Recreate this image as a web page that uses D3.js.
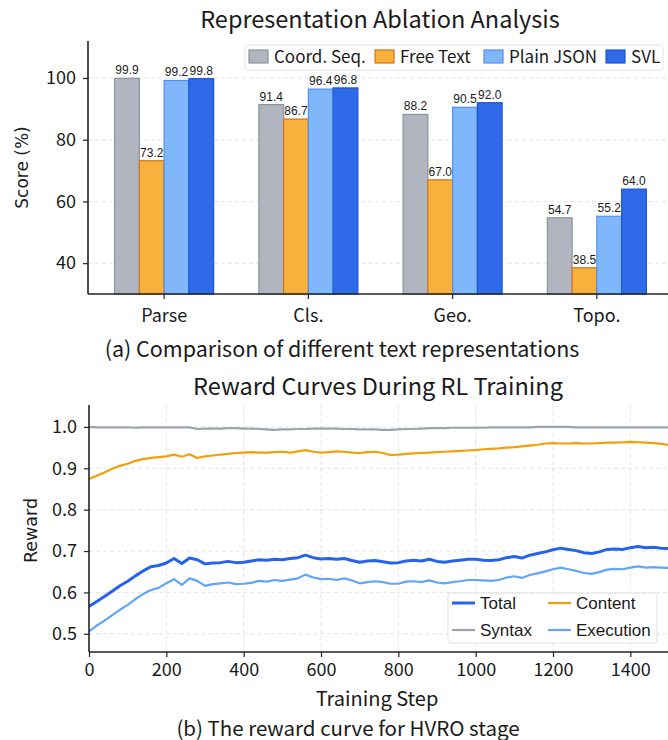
<!DOCTYPE html>
<html>
<head>
<meta charset="utf-8">
<script src="https://cdn.jsdelivr.net/npm/d3@7"></script>
<style>
  body { margin: 0; background: #fff; }
  svg { display: block; }
  text { fill: #1a1a1a; }
</style>
</head>
<body>
<div id="chart"></div>
<script>
const W = 668, H = 740;
const cjk = '"Noto Sans CJK SC", "Noto Sans", sans-serif';
const sans = '"Liberation Sans", Arial, sans-serif';
const dejavu = '"DejaVu Sans", sans-serif';

// ---- (a) bar chart data
const categories = ['Parse', 'Cls.', 'Geo.', 'Topo.'];
const barSeries = ['Coord. Seq.', 'Free Text', 'Plain JSON', 'SVL'];
const coordSeq = [99.9, 91.4, 88.2, 54.7];
const freeText = [73.2, 86.7, 67.0, 38.5];
const plainJson = [99.2, 96.4, 90.5, 55.2];
const svl = [99.8, 96.8, 92.0, 64.0];
const barTicks = [40, 60, 80, 100];
const barFill = ['#b0b5bf', '#f7b13c', '#80b7fb', '#2f6ae8'];
const barEdge = ['#8e939d', '#d0761a', '#4f8ff2', '#1f56d6'];

// ---- (b) reward curves data (every 20 steps)
const steps = d3.range(0, 1501, 20);
const total = [0.566, 0.578, 0.590, 0.603, 0.616, 0.627, 0.640, 0.652, 0.662, 0.665,
  0.671, 0.682, 0.670, 0.683, 0.679, 0.669, 0.671, 0.672, 0.675, 0.672,
  0.673, 0.676, 0.679, 0.678, 0.680, 0.679, 0.682, 0.684, 0.690, 0.684,
  0.681, 0.682, 0.680, 0.682, 0.677, 0.673, 0.676, 0.677, 0.674, 0.671,
  0.672, 0.676, 0.678, 0.676, 0.680, 0.675, 0.673, 0.676, 0.678, 0.680,
  0.680, 0.678, 0.677, 0.679, 0.684, 0.687, 0.683, 0.690, 0.694, 0.698,
  0.703, 0.707, 0.704, 0.701, 0.696, 0.694, 0.698, 0.704, 0.705, 0.704,
  0.708, 0.711, 0.708, 0.709, 0.707, 0.706];
const syntax = [1.000, 0.999, 0.999, 0.999, 0.999, 0.999, 0.998, 0.999, 0.999, 0.999,
  0.999, 0.999, 0.999, 0.999, 0.995, 0.996, 0.996, 0.996, 0.997, 0.997,
  0.996, 0.996, 0.995, 0.994, 0.993, 0.994, 0.994, 0.995, 0.995, 0.996,
  0.996, 0.996, 0.996, 0.995, 0.995, 0.994, 0.994, 0.994, 0.993, 0.993,
  0.994, 0.995, 0.995, 0.996, 0.997, 0.997, 0.997, 0.998, 0.998, 0.998,
  0.998, 0.998, 0.999, 0.999, 0.999, 0.999, 0.999, 0.999, 1.000, 1.000,
  1.000, 1.000, 1.000, 0.999, 0.999, 0.999, 0.999, 0.999, 0.999, 0.999,
  0.999, 0.999, 0.999, 0.999, 0.999, 0.999];
const content = [0.874, 0.882, 0.890, 0.899, 0.906, 0.911, 0.918, 0.922, 0.925, 0.927,
  0.929, 0.933, 0.928, 0.934, 0.925, 0.929, 0.931, 0.933, 0.935, 0.937,
  0.938, 0.939, 0.938, 0.938, 0.939, 0.940, 0.938, 0.941, 0.944, 0.940,
  0.938, 0.939, 0.941, 0.940, 0.938, 0.937, 0.939, 0.940, 0.937, 0.932,
  0.933, 0.935, 0.936, 0.937, 0.938, 0.939, 0.940, 0.941, 0.942, 0.943,
  0.944, 0.946, 0.947, 0.948, 0.950, 0.951, 0.953, 0.955, 0.957, 0.960,
  0.961, 0.960, 0.960, 0.961, 0.960, 0.960, 0.961, 0.962, 0.962, 0.963,
  0.964, 0.963, 0.962, 0.961, 0.959, 0.956];
const execution = [0.506, 0.520, 0.532, 0.545, 0.558, 0.570, 0.584, 0.596, 0.606, 0.611,
  0.622, 0.632, 0.618, 0.634, 0.628, 0.616, 0.620, 0.622, 0.624, 0.620,
  0.621, 0.623, 0.628, 0.626, 0.630, 0.628, 0.631, 0.634, 0.643, 0.636,
  0.632, 0.633, 0.630, 0.634, 0.629, 0.622, 0.625, 0.627, 0.625, 0.621,
  0.621, 0.626, 0.627, 0.625, 0.629, 0.624, 0.622, 0.625, 0.627, 0.630,
  0.630, 0.629, 0.628, 0.630, 0.636, 0.639, 0.635, 0.642, 0.646, 0.651,
  0.656, 0.660, 0.656, 0.652, 0.647, 0.645, 0.649, 0.655, 0.657, 0.656,
  0.660, 0.663, 0.660, 0.661, 0.660, 0.659];
const lineNames = ['Total', 'Syntax', 'Content', 'Execution'];
const lineColors = ['#2563eb', '#9ca3af', '#f59e0b', '#60a5fa'];
const lineWidths = [3, 2.2, 2.2, 2.2];
const stepTicks = [0, 200, 400, 600, 800, 1000, 1200, 1400];
const rewardTicks = [0.5, 0.6, 0.7, 0.8, 0.9, 1.0];

const svg = d3.select('#chart').append('svg')
  .attr('width', W).attr('height', H);

// ================= (a) bars =================
const pA = { left: 88, right: 668, top: 41, bottom: 294 };
const x0 = d3.scaleBand().domain(categories).range([92, 669]);
const x1 = d3.scaleBand().domain(barSeries).range([-49.5, 49.5]);
const yA = d3.scaleLinear().domain([30, 112]).range([pA.bottom, pA.top]);

const gA = svg.append('g');

// grid
gA.append('g').selectAll('line').data(barTicks).enter().append('line')
  .attr('x1', pA.left).attr('x2', pA.right)
  .attr('y1', d => yA(d)).attr('y2', d => yA(d))
  .attr('stroke', '#dcdcdc').attr('stroke-width', 0.8)
  .attr('stroke-dasharray', '4,3');

const barData = [coordSeq, freeText, plainJson, svl];
barSeries.forEach((s, si) => {
  const g = gA.append('g');
  const vals = barData[si];
  g.selectAll('rect').data(categories).enter().append('rect')
    .attr('x', (c) => x0(c) + x0.bandwidth() / 2 + x1(s))
    .attr('width', x1.bandwidth())
    .attr('y', (c, i) => yA(vals[i]))
    .attr('height', (c, i) => yA(30) - yA(vals[i]))
    .attr('fill', barFill[si])
    .attr('stroke', barEdge[si]).attr('stroke-width', 1.2);
  g.selectAll('text').data(categories).enter().append('text')
    .attr('x', (c) => x0(c) + x0.bandwidth() / 2 + x1(s) + x1.bandwidth() / 2)
    .attr('y', (c, i) => yA(vals[i]) - 4)
    .attr('text-anchor', 'middle')
    .style('font-family', sans).style('font-size', '12px')
    .text((c, i) => vals[i].toFixed(1));
});

// axes
const yAxisA = gA.append('g').attr('transform', `translate(${pA.left},0)`)
  .call(d3.axisLeft(yA).tickValues(barTicks).tickSize(5).tickPadding(7));
yAxisA.select('.domain').attr('d', `M0,${pA.top}V${pA.bottom}`);
const xAxisA = gA.append('g').attr('transform', `translate(0,${pA.bottom})`)
  .call(d3.axisBottom(x0).tickSize(5).tickPadding(10));
xAxisA.select('.domain').attr('d', `M${pA.left},0H${pA.right}`);
[yAxisA, xAxisA].forEach(a => {
  a.select('.domain').attr('stroke', '#222').attr('stroke-width', 1.6);
  a.selectAll('.tick line').attr('stroke', '#222').attr('stroke-width', 1.2);
  a.selectAll('.tick text').style('font-family', cjk).style('font-size', '18px').attr('fill', '#1a1a1a');
});

gA.append('text').attr('x', 380).attr('y', 28).attr('text-anchor', 'middle')
  .style('font-family', cjk).style('font-size', '23.5px')
  .text('Representation Ablation Analysis');
gA.append('text').attr('transform', `translate(28,${(pA.top + pA.bottom) / 2}) rotate(-90)`)
  .attr('text-anchor', 'middle')
  .style('font-family', dejavu).style('font-size', '17px')
  .text('Score (%)');

// legend (a)
const legA = gA.append('g');
legA.append('rect').attr('x', 245).attr('y', 45).attr('width', 418).attr('height', 25)
  .attr('rx', 3).attr('fill', 'white').attr('fill-opacity', 0.85)
  .attr('stroke', '#e2e2e2');
const legAx = [249, 375, 484, 606];
barSeries.forEach((s, i) => {
  legA.append('rect').attr('x', legAx[i]).attr('y', 50).attr('width', 19).attr('height', 13)
    .attr('fill', barFill[i]).attr('stroke', barEdge[i]).attr('stroke-width', 1.2);
  legA.append('text').attr('x', legAx[i] + 25).attr('y', 63)
    .style('font-family', cjk).style('font-size', '17px').text(s);
});

svg.append('text').attr('x', 342).attr('y', 357).attr('text-anchor', 'middle')
  .style('font-family', cjk).style('font-size', '21.5px')
  .text('(a) Comparison of different text representations');

// ================= (b) lines =================
const pB = { left: 89, right: 668, top: 405, bottom: 652 };
const xB = d3.scaleLinear().domain([0, 1500]).range([89, 669]);
const yB = d3.scaleLinear().domain([0.456, 1.053]).range([pB.bottom, pB.top]);
const gB = svg.append('g');

gB.append('g').selectAll('line').data(stepTicks.slice(1)).enter().append('line')
  .attr('x1', d => xB(d)).attr('x2', d => xB(d))
  .attr('y1', pB.top).attr('y2', pB.bottom)
  .attr('stroke', '#dcdcdc').attr('stroke-width', 0.8).attr('stroke-dasharray', '4,3');
gB.append('g').selectAll('line').data(rewardTicks).enter().append('line')
  .attr('x1', pB.left).attr('x2', pB.right)
  .attr('y1', d => yB(d)).attr('y2', d => yB(d))
  .attr('stroke', '#dcdcdc').attr('stroke-width', 0.8).attr('stroke-dasharray', '4,3');

const seriesB = [total, syntax, content, execution];
const line = d3.line().x((d, i) => xB(steps[i])).y(d => yB(d));
seriesB.forEach((vals, i) => {
  gB.append('path').datum(vals)
    .attr('d', line)
    .attr('fill', 'none')
    .attr('stroke', lineColors[i])
    .attr('stroke-width', lineWidths[i])
    .attr('stroke-linejoin', 'round');
});

const yAxisB = gB.append('g').attr('transform', `translate(${pB.left},0)`)
  .call(d3.axisLeft(yB).tickValues(rewardTicks).tickFormat(d3.format('.1f')).tickSize(5).tickPadding(7));
yAxisB.select('.domain').attr('d', `M0,${pB.top}V${pB.bottom}`);
const xAxisB = gB.append('g').attr('transform', `translate(0,${pB.bottom})`)
  .call(d3.axisBottom(xB).tickValues(stepTicks).tickFormat(d3.format('d')).tickSize(5).tickPadding(6));
xAxisB.select('.domain').attr('d', `M${pB.left},0H${pB.right}`);
[yAxisB, xAxisB].forEach(a => {
  a.select('.domain').attr('stroke', '#222').attr('stroke-width', 1.6);
  a.selectAll('.tick line').attr('stroke', '#222').attr('stroke-width', 1.2);
  a.selectAll('.tick text').style('font-family', cjk).style('font-size', '18px').attr('fill', '#1a1a1a');
});

gB.append('text').attr('x', 378).attr('y', 395).attr('text-anchor', 'middle')
  .style('font-family', cjk).style('font-size', '23.5px')
  .text('Reward Curves During RL Training');
gB.append('text').attr('transform', `translate(37,${(pB.top + pB.bottom) / 2 + 2}) rotate(-90)`)
  .attr('text-anchor', 'middle')
  .style('font-family', dejavu).style('font-size', '17.5px')
  .text('Reward');
gB.append('text').attr('x', 377).attr('y', 706).attr('text-anchor', 'middle')
  .style('font-family', cjk).style('font-size', '20px')
  .text('Training Step');

// legend (b)
const legB = gB.append('g');
legB.append('rect').attr('x', 448).attr('y', 593).attr('width', 209).attr('height', 50)
  .attr('rx', 3).attr('fill', 'white').attr('fill-opacity', 0.85).attr('stroke', '#e2e2e2');
const legBpos = [[452, 603], [452, 630], [548, 603], [548, 630]];
lineNames.forEach((n, i) => {
  const [lx, ly] = legBpos[i];
  legB.append('line').attr('x1', lx).attr('x2', lx + 23).attr('y1', ly).attr('y2', ly)
    .attr('stroke', lineColors[i]).attr('stroke-width', lineWidths[i]);
  legB.append('text').attr('x', lx + 28).attr('y', ly + 6)
    .style('font-family', sans).style('font-size', '17px').text(n);
});

svg.append('text').attr('x', 348).attr('y', 736).attr('text-anchor', 'middle')
  .style('font-family', cjk).style('font-size', '20.5px')
  .text('(b) The reward curve for HVRO stage');
</script>
</body>
</html>
